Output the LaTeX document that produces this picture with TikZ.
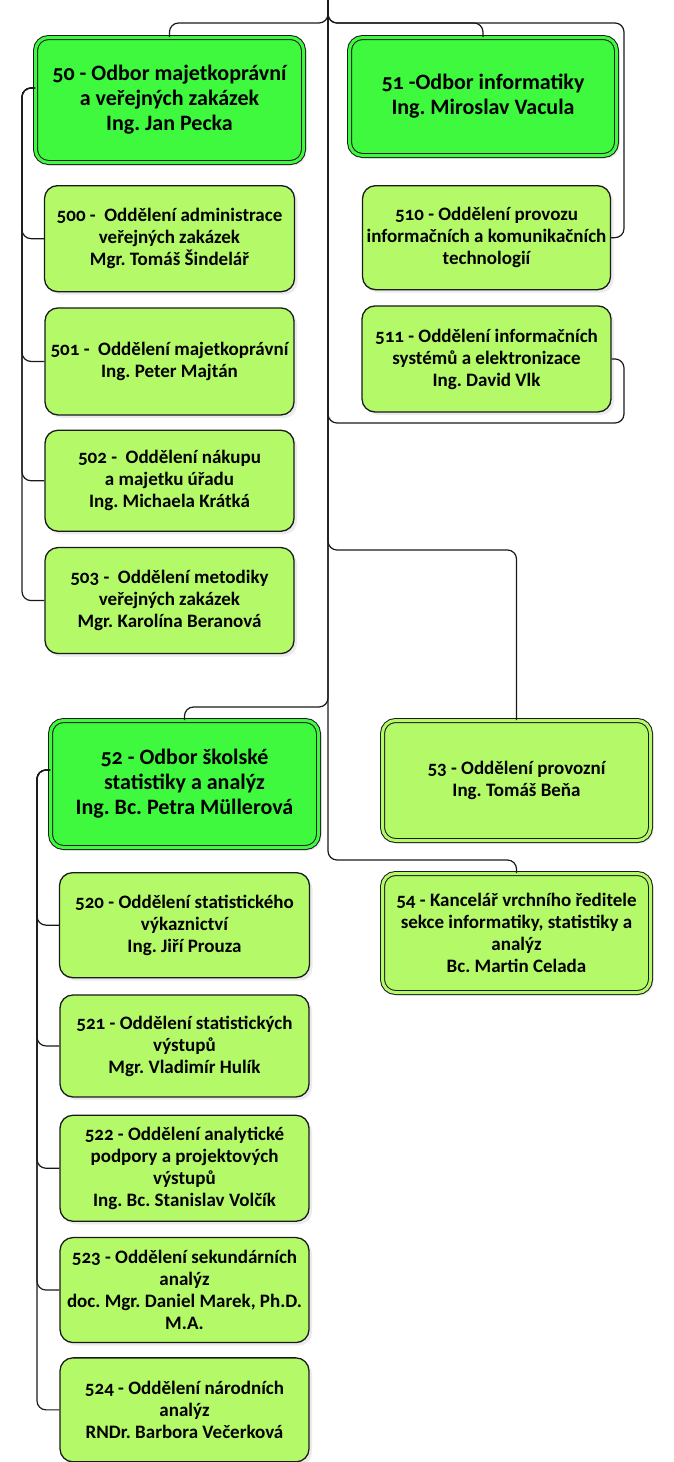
\documentclass[tikz,border=0pt]{standalone}
\usepackage{fontspec}
\setmainfont{Carlito}[Numbers=OldStyle]
\usepackage{tikz}
\usetikzlibrary{positioning,shadows}
\frenchspacing

\definecolor{odbor}{HTML}{3EF93E}
\definecolor{oddeleni}{HTML}{B4FA68}
\definecolor{linka}{HTML}{1A1A1A}

\begin{document}
\begin{tikzpicture}[x=1pt,y=-1pt,node distance=15pt,
    font=\bfseries\fontsize{19}{22}\selectfont,
    box/.style={draw=linka,line width=1.3pt,rounded corners=13pt,fill=oddeleni,
      align=center,inner sep=1pt,minimum width=249pt,
      general shadow={fill=black!8,shadow xshift=3pt,shadow yshift=-3pt}},
    hlava/.style={box,fill=odbor,double=odbor,double distance=3pt,line width=1pt,
      minimum width=268pt,font=\bfseries\fontsize{22}{25}\selectfont},
    usek/.style={box,double=oddeleni,double distance=3pt,line width=1pt,minimum width=268pt},
    conn/.style={draw=linka,line width=1.2pt,rounded corners=9pt}]
    \useasboundingbox (0,0) rectangle (674,1462);

    \node (50) [hlava,minimum height=125pt] at (169.5,100) {50 - Odbor majetkoprávní\\a veřejných zakázek\\Ing. Jan Pecka};
    \node (51) [hlava,minimum width=267pt,minimum height=118pt] at (483,96.5) {51 -Odbor informatiky\\Ing. Miroslav Vacula};
    \node (500) [box,minimum width=250pt,minimum height=106pt,below=22pt of 50] {500 -~ Oddělení administrace\\veřejných zakázek\\Mgr. Tomáš Šindelář};
    \node (501) [box,minimum height=107pt,below=of 500] {501 -~ Oddělení majetkoprávní\\Ing. Peter Majtán};
    \node (502) [box,minimum height=101pt,below=14pt of 501] {502 -~ Oddělení nákupu\\a majetku úřadu\\Ing. Michaela Krátká};
    \node (503) [box,minimum height=106pt,below=of 502] {503 -~ Oddělení metodiky\\veřejných zakázek\\Mgr. Karolína Beranová};
    \node (510) [box,minimum width=248pt,minimum height=104pt,below=29pt of 51,xshift=3.5pt] {510 - Oddělení provozu\\informačních a komunikačních\\technologií};
    \node (511) [box,minimum height=106pt,below=of 510] {511 - Oddělení informačních\\systémů a elektronizace\\Ing. David Vlk};

    \node (52) [hlava,minimum height=127pt] at (184.5,784) {52 - Odbor školské\\statistiky a analýz\\Ing. Bc. Petra Müllerová};
    \node (53) [usek,minimum height=120pt] at (516.5,780.5) {53 - Oddělení provozní\\Ing. Tomáš Beňa};
    \node (54) [usek,minimum height=119pt,below=32pt of 53] {54 - Kancelář vrchního ředitele\\sekce informatiky, statistiky a\\analýz\\Bc. Martin Celada};
    \node (520) [box,minimum width=250pt,minimum height=105pt,below=24pt of 52] {520 - Oddělení statistického\\výkaznictví\\Ing. Jiří Prouza};
    \node (521) [box,minimum height=102pt,below=16pt of 520] {521 - Oddělení statistických\\výstupů\\Mgr. Vladimír Hulík};
    \node (522) [box,minimum height=106pt,below=17pt of 521] {522 - Oddělení analytické\\podpory a projektových\\výstupů\\Ing. Bc. Stanislav Volčík};
    \node (523) [box,minimum height=105pt,below=of 522] {523 - Oddělení sekundárních\\analýz\\doc. Mgr. Daniel Marek, Ph.D.\\M.A.};
    \node (524) [box,minimum height=104pt,below=14pt of 523] {524 - Oddělení národních\\analýz\\RNDr. Barbora Večerková};

    \coordinate (top) at (328,0);
    \coordinate (rail) at (0,23);
    \coordinate (r511) at (0,423);
    \coordinate (r53) at (0,550);
    \coordinate (r52) at (0,707);
    \coordinate (r54) at (0,860);
    \coordinate (busA) at (22,0);
    \coordinate (busB) at (37,0);
    \coordinate (busC) at (624,0);

    \draw[conn] (top) |- (50.north |- rail) -- (50.north);
    \draw[conn] (top) |- (51.north |- rail) -- (51.north);
    \draw[conn] (top) |- (busC |- rail) |- (510.east);
    \draw[conn] (511.east) -| (busC |- r511) -| (top);
    \draw[conn] (top) |- (53.north |- r53) -- (53.north);
    \draw[conn] (top) |- (52.north |- r52) -- (52.north);
    \draw[conn] (top) |- (54.north |- r54) -- (54.north);

    \draw[conn] ([yshift=12pt]50.west) -| (busA |- 500.west) -- (500.west);
    \draw[conn] ([yshift=12pt]50.west) -| (busA |- 501.west) -- (501.west);
    \draw[conn] ([yshift=12pt]50.west) -| (busA |- 502.west) -- (502.west);
    \draw[conn] ([yshift=12pt]50.west) -| (busA |- 503.west) -- (503.west);

    \draw[conn] ([yshift=14pt]52.west) -| (busB |- 520.west) -- (520.west);
    \draw[conn] ([yshift=14pt]52.west) -| (busB |- 521.west) -- (521.west);
    \draw[conn] ([yshift=14pt]52.west) -| (busB |- 522.west) -- (522.west);
    \draw[conn] ([yshift=14pt]52.west) -| (busB |- 523.west) -- (523.west);
    \draw[conn] ([yshift=14pt]52.west) -| (busB |- 524.west) -- (524.west);
\end{tikzpicture}
\end{document}
